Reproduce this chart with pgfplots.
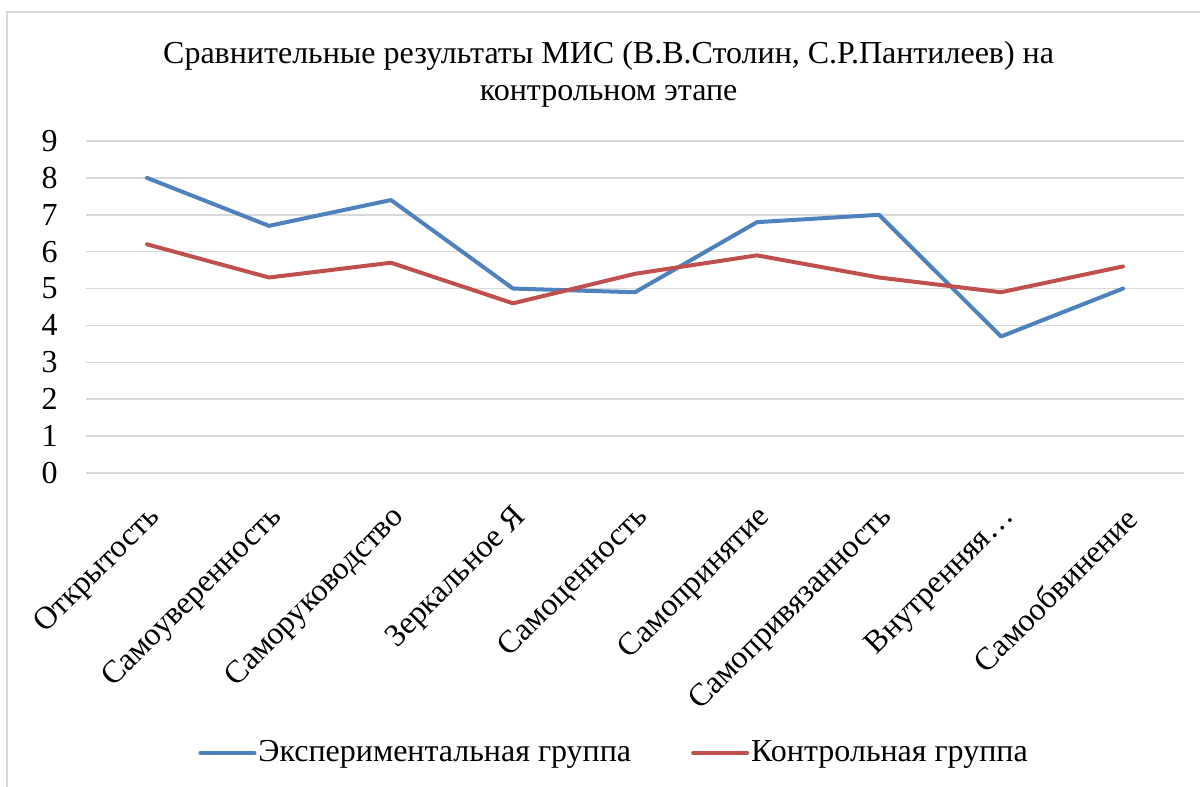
\documentclass[border=0pt]{standalone}
\usepackage{fontspec}
\setmainfont{Liberation Serif}
\usepackage{pgfplots}
\pgfplotsset{compat=1.18}
\definecolor{cblue}{HTML}{4F81BD}
\definecolor{cred}{HTML}{C0504D}
\definecolor{cgrid}{HTML}{D9D9D9}
\begin{document}
\begin{tikzpicture}
\useasboundingbox (0,0) rectangle (600pt,393.5pt);
\draw[cgrid, line width=1pt] (3.5pt,0) -- (3.5pt,387.5pt) -- (600pt,387.5pt);
\begin{axis}[
  at={(43pt,157pt)}, anchor=south west,
  scale only axis, width=549pt, height=166pt,
  xmin=-0.5, xmax=8.5, ymin=0, ymax=9,
  xtick={0,...,8},
  xticklabels={Открытость,Самоуверенность,Саморуководство,Зеркальное Я,Самоценность,Самопринятие,Самопривязанность,Внутренняя…,Самообвинение},
  ytick={0,...,9},
  axis line style={draw=none},
  major tick length=0pt,
  ymajorgrids, grid style={cgrid, line width=0.75pt},
  /pgf/number format/assume math mode=true,
  tick label style={font=\fontsize{16}{18.5}\selectfont},
  yticklabel style={anchor=east, inner sep=0pt, xshift=-14pt},
  xticklabel style={xshift=4.5pt, yshift=-20pt, rotate=45, anchor=east, inner sep=0pt},
  title={Сравнительные результаты МИС (В.В.Столин, С.Р.Пантилеев) на\\контрольном этапе},
  title style={at={(0.476,1.164)}, anchor=center, align=center, font=\fontsize{16}{18.5}\selectfont},
  legend columns=2,
  legend style={at={(0.481,-0.843)}, anchor=center, draw=none, font=\fontsize{16}{18.5}\selectfont,
    /tikz/every even column/.append style={column sep=29pt}, inner sep=0pt,
    nodes={inner sep=1pt}},
  legend image code/.code={\draw[#1, line width=2pt, line cap=round] (0pt,0pt) -- (27pt,0pt);},
  every axis plot/.append style={line width=2pt, line join=round, line cap=round},
]
\addplot[cblue] coordinates {(0,8.0) (1,6.7) (2,7.4) (3,5.0) (4,4.9) (5,6.8) (6,7.0) (7,3.7) (8,5.0)};
\addlegendentry{Экспериментальная группа}
\addplot[cred] coordinates {(0,6.2) (1,5.3) (2,5.7) (3,4.6) (4,5.4) (5,5.9) (6,5.3) (7,4.9) (8,5.6)};
\addlegendentry{Контрольная группа}
\end{axis}
\end{tikzpicture}
\end{document}
